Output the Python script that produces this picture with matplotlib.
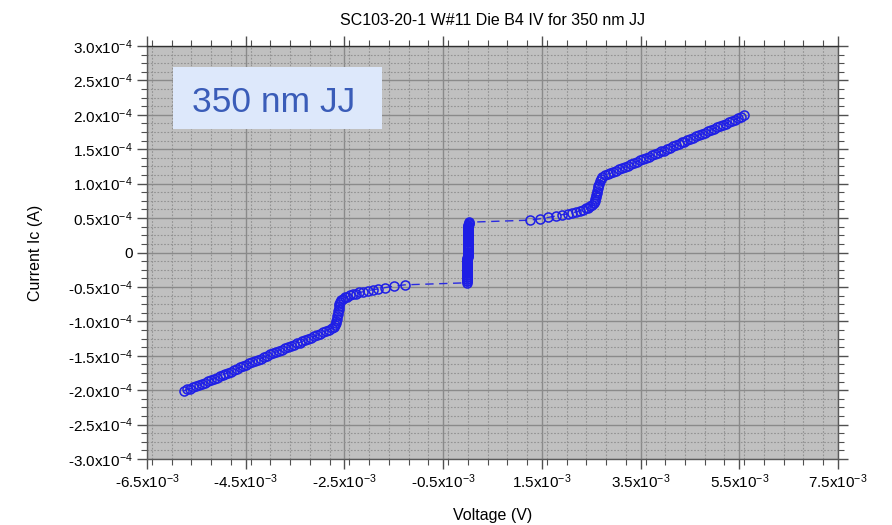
import matplotlib
matplotlib.use("Agg")
import matplotlib.pyplot as plt
from matplotlib.ticker import FixedLocator, MultipleLocator
from matplotlib.patches import Rectangle

plt.rcParams["font.family"] = ["Liberation Sans", "DejaVu Sans"]
plt.rcParams["mathtext.fontset"] = "custom"
plt.rcParams["mathtext.rm"] = "Liberation Sans"
plt.rcParams["mathtext.it"] = "Liberation Sans"
plt.rcParams["mathtext.default"] = "regular"

# Sweep voltage (mV) and current (1e-4 A), in sweep order
voltage_mv = [
    -5.75, -5.69, -5.63, -5.57, -5.51, -5.45, -5.39, -5.33, -5.27, -5.21,
    -5.15, -5.09, -5.03, -4.97, -4.91, -4.85, -4.79, -4.73, -4.67, -4.61,
    -4.55, -4.49, -4.43, -4.37, -4.31, -4.25, -4.19, -4.13, -4.07, -4.01,
    -3.95, -3.89, -3.83, -3.77, -3.71, -3.65, -3.59, -3.53, -3.47, -3.41,
    -3.35, -3.29, -3.23, -3.17, -3.11, -3.05, -2.99, -2.93, -2.87, -2.81,
    -2.75,
    -2.72, -2.70, -2.68, -2.67, -2.66, -2.65, -2.64, -2.63, -2.62, -2.61,
    -2.60, -2.58, -2.56, -2.53,
    -2.49, -2.44, -2.39, -2.33, -2.27, -2.20, -2.12, -2.03, -1.93, -1.82,
    -1.68, -1.50, -1.28,
    -0.02, -0.02, -0.02, -0.02, -0.02, -0.02, -0.02, -0.02, -0.02, -0.02,
    -0.01, -0.01, -0.01, -0.01, -0.01, -0.01, -0.01, -0.01, -0.01, -0.01,
    -0.01, -0.01, -0.01, -0.01, -0.01, 0.00, 0.00, 0.00, 0.00, 0.00,
    0.00, 0.00, 0.00, 0.00, 0.00, 0.00, 0.00, 0.00, 0.00, 0.00,
    0.00, 0.00, 0.00, 0.00, 0.00, 0.01, 0.01, 0.01, 0.01, 0.01,
    0.01, 0.01, 0.01, 0.01, 0.01, 0.01, 0.01, 0.02, 0.02, 0.02,
    1.26, 1.46, 1.63, 1.78, 1.91, 2.02, 2.12, 2.20, 2.27, 2.33, 2.39, 2.44, 2.48,
    2.52, 2.55, 2.57, 2.58, 2.59, 2.60, 2.61, 2.62, 2.63, 2.64, 2.65, 2.67,
    2.69, 2.72,
    2.77, 2.83, 2.89, 2.95, 3.01, 3.07, 3.13, 3.19, 3.25, 3.31,
    3.37, 3.43, 3.49, 3.55, 3.61, 3.67, 3.73, 3.79, 3.85, 3.91,
    3.97, 4.03, 4.09, 4.15, 4.21, 4.27, 4.33, 4.39, 4.45, 4.51,
    4.57, 4.63, 4.69, 4.75, 4.81, 4.87, 4.93, 4.99, 5.05, 5.11,
    5.17, 5.23, 5.29, 5.35, 5.41, 5.47, 5.53, 5.60,
]
current_e4 = [
    -2.01, -1.99, -1.98, -1.96, -1.94, -1.93, -1.91, -1.89, -1.87, -1.85,
    -1.84, -1.82, -1.80, -1.78, -1.76, -1.75, -1.73, -1.71, -1.69, -1.67,
    -1.65, -1.63, -1.61, -1.59, -1.57, -1.56, -1.54, -1.52, -1.50, -1.48,
    -1.46, -1.45, -1.43, -1.41, -1.39, -1.38, -1.36, -1.34, -1.32, -1.31,
    -1.29, -1.27, -1.25, -1.24, -1.22, -1.20, -1.18, -1.16, -1.14, -1.12,
    -1.10,
    -1.08, -1.05, -1.02, -0.99, -0.96, -0.92, -0.89, -0.85, -0.82, -0.78,
    -0.75, -0.72, -0.69, -0.67,
    -0.65, -0.64, -0.62, -0.61, -0.60, -0.58, -0.57, -0.56, -0.54, -0.53,
    -0.51, -0.49, -0.47,
    -0.44, -0.42, -0.41, -0.39, -0.38, -0.36, -0.35, -0.33, -0.32, -0.30,
    -0.29, -0.27, -0.26, -0.24, -0.23, -0.21, -0.20, -0.18, -0.17, -0.15,
    -0.14, -0.12, -0.11, -0.09, -0.08, -0.06, -0.05, -0.03, -0.02, 0.00,
    0.01, 0.03, 0.04, 0.06, 0.07, 0.09, 0.10, 0.12, 0.13, 0.15,
    0.16, 0.18, 0.19, 0.21, 0.22, 0.24, 0.25, 0.27, 0.28, 0.30,
    0.31, 0.33, 0.34, 0.36, 0.37, 0.39, 0.40, 0.41, 0.43, 0.44,
    0.47, 0.49, 0.51, 0.53, 0.55, 0.56, 0.58, 0.59, 0.61, 0.62, 0.64, 0.65, 0.67,
    0.69, 0.72, 0.75, 0.78, 0.81, 0.84, 0.87, 0.90, 0.93, 0.97, 1.00, 1.04,
    1.07, 1.10,
    1.12, 1.14, 1.15, 1.17, 1.19, 1.21, 1.23, 1.24, 1.26, 1.28,
    1.30, 1.32, 1.34, 1.36, 1.37, 1.39, 1.41, 1.43, 1.45, 1.47,
    1.48, 1.50, 1.52, 1.54, 1.56, 1.58, 1.60, 1.61, 1.63, 1.65,
    1.67, 1.69, 1.71, 1.72, 1.74, 1.76, 1.78, 1.80, 1.82, 1.84,
    1.85, 1.87, 1.89, 1.91, 1.93, 1.95, 1.97, 2.00,
]

x_ticks = [-6.5e-3, -4.5e-3, -2.5e-3, -0.5e-3, 1.5e-3, 3.5e-3, 5.5e-3, 7.5e-3]
x_tick_labels = ["-6.5x10$^{-3}$", "-4.5x10$^{-3}$", "-2.5x10$^{-3}$", "-0.5x10$^{-3}$",
                 "1.5x10$^{-3}$", "3.5x10$^{-3}$", "5.5x10$^{-3}$", "7.5x10$^{-3}$"]
y_ticks = [-3.0e-4, -2.5e-4, -2.0e-4, -1.5e-4, -1.0e-4, -0.5e-4, 0.0,
           0.5e-4, 1.0e-4, 1.5e-4, 2.0e-4, 2.5e-4, 3.0e-4]
y_tick_labels = ["-3.0x10$^{-4}$", "-2.5x10$^{-4}$", "-2.0x10$^{-4}$", "-1.5x10$^{-4}$",
                 "-1.0x10$^{-4}$", "-0.5x10$^{-4}$", "0",
                 "0.5x10$^{-4}$", "1.0x10$^{-4}$", "1.5x10$^{-4}$", "2.0x10$^{-4}$",
                 "2.5x10$^{-4}$", "3.0x10$^{-4}$"]

title_text = "SC103-20-1 W#11 Die B4 IV for 350 nm JJ"
annotation_text = "350 nm JJ"

voltage = [v * 1e-3 for v in voltage_mv]
current = [c * 1e-4 for c in current_e4]

fig = plt.figure(figsize=(8.92, 5.25), dpi=100)
ax = fig.add_axes([147 / 892, 66 / 525, 691 / 892, 413 / 525])
ax.set_facecolor("#c0c0c0")

ax.set_xlim(-6.5e-3, 7.5e-3)
ax.set_ylim(-3.0e-4, 3.0e-4)
ax.xaxis.set_major_locator(FixedLocator(x_ticks))
ax.set_xticklabels(x_tick_labels)
ax.yaxis.set_major_locator(FixedLocator(y_ticks))
ax.set_yticklabels(y_tick_labels)
ax.xaxis.set_minor_locator(MultipleLocator(0.4e-3))
ax.yaxis.set_minor_locator(MultipleLocator(0.125e-4))

ax.grid(which="major", color="#8a8a8a", linestyle="-", linewidth=1.0)
ax.grid(which="minor", color="#929292", linestyle=(0, (1.5, 1.5)), linewidth=0.8)
ax.set_axisbelow(True)

ax.tick_params(which="both", direction="out", top=True, right=True,
               colors="#505050", labelcolor="black", labelsize=11)
ax.tick_params(which="major", length=7, width=1.0, pad=3)
ax.tick_params(which="minor", length=4, width=0.8)
for side in ["left", "right", "bottom", "top"]:
    ax.spines[side].set_color("#5a5a5a")
    ax.spines[side].set_linewidth(1.0)
ax.spines["top"].set_color("#303030")

ax.plot(voltage, current, color="#2a2ae0", linestyle=(0, (6, 4)), linewidth=1.0,
        marker="o", markersize=6.5, markerfacecolor="none",
        markeredgecolor="#1e1ee6", markeredgewidth=1.1)

ax.set_title(title_text, fontsize=11.5, pad=15)
ax.set_xlabel("Voltage (V)", fontsize=11.5)
ax.set_ylabel("Current Ic (A)", fontsize=11.5)
ax.xaxis.set_label_coords(0.5, -0.118)
ax.yaxis.set_label_coords(-0.150, 0.5)

ax.add_patch(Rectangle((26 / 691, 330 / 413), 209 / 691, 62 / 413,
                       transform=ax.transAxes, facecolor="#dde8fb",
                       edgecolor="none", zorder=5))
ax.text(45 / 691, 347 / 413, annotation_text, transform=ax.transAxes,
        fontsize=25.5, color="#3a5cb8", va="baseline", ha="left", zorder=6)

fig.savefig("out.png", dpi=100)
